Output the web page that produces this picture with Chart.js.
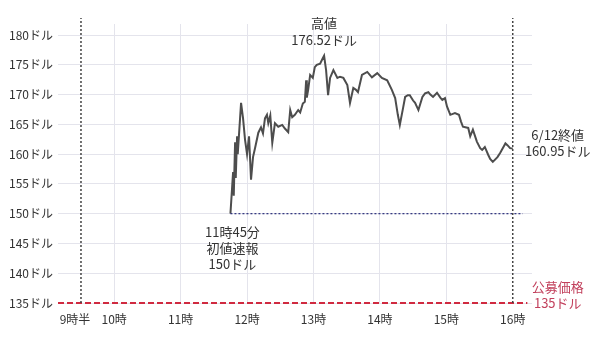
<!DOCTYPE html>
<html>
<head>
<meta charset="utf-8">
<script src="https://cdn.jsdelivr.net/npm/chart.js@4"></script>
<style>
  html, body { margin: 0; padding: 0; background: #fff; }
  #wrap { width: 600px; height: 341px; }
</style>
</head>
<body>
<div id="wrap"><canvas id="priceChart" width="600" height="341"></canvas></div>
<script>
// time of day in hours, price in dollars
const times = [11.75, 11.79, 11.80, 11.82, 11.83, 11.85, 11.86, 11.91, 11.94, 11.97, 12.00, 12.03, 12.06, 12.09,
  12.12, 12.17, 12.21, 12.24, 12.27, 12.30, 12.32, 12.35, 12.38, 12.42, 12.47, 12.53, 12.57, 12.62, 12.65, 12.68,
  12.72, 12.77, 12.80, 12.84, 12.87, 12.89, 12.90, 12.92, 12.95, 12.99, 13.02, 13.05, 13.10, 13.14, 13.16, 13.19,
  13.22, 13.25, 13.30, 13.36, 13.40, 13.45, 13.51, 13.55, 13.60, 13.64, 13.67, 13.73, 13.81, 13.88, 13.96, 14.03,
  14.11, 14.18, 14.23, 14.27, 14.30, 14.35, 14.38, 14.42, 14.45, 14.50, 14.53, 14.58, 14.64, 14.68, 14.73, 14.76,
  14.80, 14.86, 14.91, 14.94, 14.98, 15.01, 15.06, 15.13, 15.19, 15.22, 15.25, 15.33, 15.36, 15.40, 15.46, 15.51,
  15.54, 15.58, 15.63, 15.66, 15.70, 15.77, 15.81, 15.86, 15.89, 15.92, 15.96, 16.00];
const prices = [150, 157, 153, 162, 156, 163, 160, 168.6, 166, 162.4, 160, 163, 155.7, 159.5,
  161, 163.6, 164.5, 163.5, 166, 166.6, 165.2, 166.5, 161.9, 165.2, 164.6, 164.9, 164.3, 163.7, 167.4, 166.2,
  166.6, 167.4, 167, 168.5, 168.8, 172.4, 169.5, 170.8, 173.3, 172.8, 174.6, 175, 175.2, 176.1, 176.52, 174.1,
  169.9, 172.8, 174.1, 172.8, 173, 172.8, 171.6, 168.6, 171.1, 170.8, 170.4, 173.3, 173.8, 172.9, 173.6, 172.8,
  172.4, 170.8, 169.4, 166.6, 164.9, 167.8, 169.6, 169.9, 169.9, 169, 168.6, 167.4, 169.6, 170.2, 170.4, 170,
  169.6, 170.3, 169.5, 169.1, 169.4, 168, 166.6, 166.9, 166.6, 165.5, 164.6, 164.4, 163, 164.1, 162.1, 161,
  160.7, 161.2, 159.9, 159.2, 158.7, 159.5, 160.2, 161.2, 161.8, 161.5, 161, 160.95];

const xTicks = [9.5, 10, 11, 12, 13, 14, 15, 16];
const xLabels = ["9時半\u3000", "10時", "11時", "12時", "13時", "14時", "15時", "16時"];
const yTicks = [135, 140, 145, 150, 155, 160, 165, 170, 175, 180];

const openTime = 9.5, closeTime = 16;
const firstTime = 11.75, firstPrice = 150;
const highTime = 13.16, highPrice = 176.52;
const closePrice = 160.95;
const offerPrice = 135;

const X_MIN = 9.154, X_MAX = 16.29, Y_MIN = 135, Y_MAX = 181.85;

const pts = (xs, ys) => xs.map((x, i) => ({ x: x, y: ys[i] }));

// text notes drawn next to points
const notes = [
  { x: highTime, y: highPrice, dx: 0, dys: [-33, -16], lines: ["高値", "176.52ドル"], color: "#333" },
  { x: firstTime, y: firstPrice, dx: 2, dys: [18, 34, 50], lines: ["11時45分", "初値速報", "150ドル"], color: "#333" },
  { x: closeTime, y: closePrice, dx: 45, dys: [-13, 3], lines: ["6/12終値", "160.95ドル"], color: "#333" },
  { x: closeTime, y: offerPrice, dx: 45, dys: [-16, 0], lines: ["公募価格", "135ドル"], color: "#c2405c" }
];

const notePlugin = {
  id: "notes",
  afterDraw(chart) {
    const c = chart.ctx;
    const xs = chart.scales.x, ys = chart.scales.y;
    c.save();
    c.font = '13px "Noto Sans CJK JP", sans-serif';
    c.textAlign = "center";
    c.textBaseline = "middle";
    notes.forEach((n) => {
      const px = xs.getPixelForValue(n.x) + n.dx;
      const py = ys.getPixelForValue(n.y);
      c.fillStyle = n.color;
      n.lines.forEach((t, i) => c.fillText(t, px, py + n.dys[i]));
    });
    c.restore();
  }
};

const ctx = document.getElementById("priceChart").getContext("2d");
new Chart(ctx, {
  type: "line",
  data: {
    datasets: [
      {
        data: pts([openTime, openTime], [Y_MIN, 182.85]),
        borderColor: "#444", borderWidth: 1.5, borderDash: [2, 2], clip: false
      },
      {
        data: pts([closeTime, closeTime], [Y_MIN, 182.85]),
        borderColor: "#444", borderWidth: 1.5, borderDash: [2, 2], clip: false
      },
      {
        data: pts([firstTime, 16.15], [firstPrice, firstPrice]),
        borderColor: "#2b2f7a", borderWidth: 1.2, borderDash: [2, 2], clip: false
      },
      {
        data: pts([X_MIN, 16.22], [offerPrice, offerPrice]),
        borderColor: "#d02a40", borderWidth: 2, borderDash: [6, 3], clip: false
      },
      {
        data: pts(times, prices),
        borderColor: "#4d4d4d", borderWidth: 2, clip: false
      }
    ]
  },
  options: {
    responsive: false,
    animation: false,
    events: [],
    elements: { point: { radius: 0 }, line: { tension: 0 } },
    layout: { padding: { top: 24, right: 68, left: 0, bottom: 0 } },
    plugins: { legend: { display: false }, tooltip: { enabled: false } },
    scales: {
      x: {
        type: "linear", min: X_MIN, max: X_MAX,
        afterBuildTicks: (s) => { s.ticks = xTicks.map((v) => ({ value: v })); },
        afterFit: (s) => { s.height = 38; },
        border: { display: false },
        grid: {
          drawTicks: false,
          color: (c) => (c.tick && (c.tick.value === openTime || c.tick.value === closeTime)) ? "rgba(0,0,0,0)" : "#e4e4ec"
        },
        ticks: {
          padding: 9, maxRotation: 0, autoSkip: false,
          color: "#333", font: { family: '"Noto Sans CJK JP", sans-serif', size: 12 },
          callback: (v) => xLabels[xTicks.indexOf(v)]
        }
      },
      y: {
        min: Y_MIN, max: Y_MAX,
        afterBuildTicks: (s) => { s.ticks = yTicks.map((v) => ({ value: v })); },
        afterFit: (s) => { s.width = 58; },
        border: { display: false },
        grid: { drawTicks: false, color: "#e4e4ec" },
        ticks: {
          padding: 5,
          color: "#333", font: { family: '"Noto Sans CJK JP", sans-serif', size: 12 },
          callback: (v) => v + "ドル"
        }
      }
    }
  },
  plugins: [notePlugin]
});
</script>
</body>
</html>
